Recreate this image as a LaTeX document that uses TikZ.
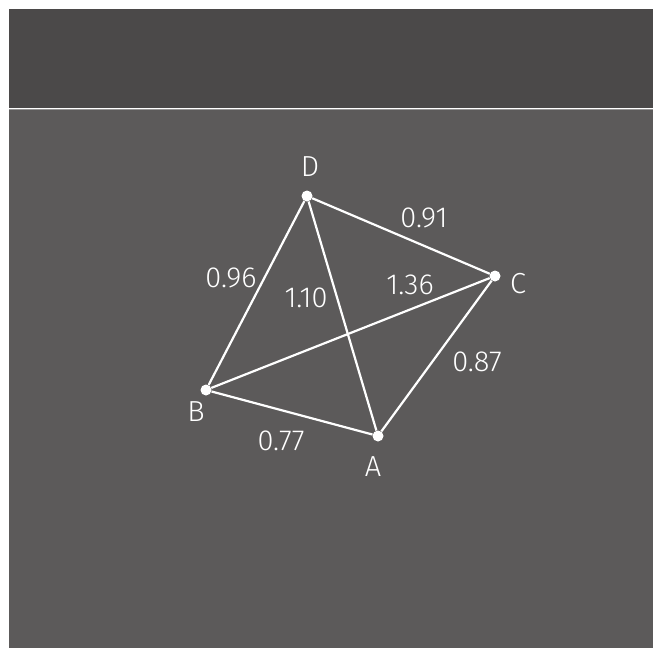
\documentclass[tikz,border=0pt]{standalone}
\usepackage{fontspec}
\setmainfont{Fira Sans}[UprightFont=* Light]
\definecolor{bgdark}{HTML}{4B4949}
\definecolor{bglight}{HTML}{5C5A5A}
\begin{document}
\begin{tikzpicture}[x=1pt,y=-1pt,
  edge/.style={draw=white,line width=2.2pt},
  vtx/.style={circle,fill=white,inner sep=0pt,minimum size=11pt},
  lbl/.style={text=white,font=\fontsize{29}{29}\selectfont,inner sep=0pt}]
\useasboundingbox (0,0) rectangle (658,648);
\fill[white] (0,0) rectangle (658,648);
\fill[bgdark] (9,9) rectangle (653,108);
\fill[bglight] (9,110) rectangle (653,648);
\draw[line width=0.8pt,color=white!35!bglight] (9,109) -- (653,109);
\node[vtx] (D) at (307,196) {};
\node[vtx] (C) at (495,276) {};
\node[vtx] (B) at (206,390) {};
\node[vtx] (A) at (378,436) {};
\draw[edge] (D) -- (C);
\draw[edge] (D) -- (B);
\draw[edge] (D) -- (A);
\draw[edge] (B) -- (C);
\draw[edge] (B) -- (A);
\draw[edge] (A) -- (C);
\node[lbl] (lD) at (310,167) {D};
\node[lbl] (lC) at (518,284) {C};
\node[lbl] (lB) at (196,412) {B};
\node[lbl] (lA) at (373,467) {A};
\node[lbl] (e1) at (424,218) {0.91};
\node[lbl] (e2) at (231,278) {0.96};
\node[lbl] (e3) at (306,298) {1.10};
\node[lbl] (e4) at (410,285) {1.36};
\node[lbl] (e5) at (477,362) {0.87};
\node[lbl] (e6) at (281,441) {0.77};
\end{tikzpicture}
\end{document}
